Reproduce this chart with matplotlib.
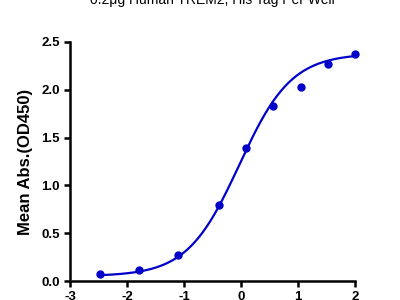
import numpy as np
import matplotlib
matplotlib.use("Agg")
import matplotlib.pyplot as plt

plt.rcParams['font.family'] = ['Liberation Sans', 'DejaVu Sans']

# measured points (log concentration vs mean OD450)
log_conc = [-2.47, -1.79, -1.10, -0.39, 0.09, 0.56, 1.05, 1.53, 2.00]
mean_abs = [0.07, 0.11, 0.27, 0.79, 1.39, 1.83, 2.03, 2.27, 2.37]

# 4PL fit parameters
fit_bottom = 0.05
fit_top = 2.38
fit_logec50 = -0.03
fit_hill = 0.95

title = "0.2\u03bcg Human TREM2, His Tag Per Well"
x_ticks = [-3, -2, -1, 0, 1, 2]
y_ticks = [0.0, 0.5, 1.0, 1.5, 2.0, 2.5]

blue = '#0000c8'

fig = plt.figure(figsize=(4, 3), dpi=100)
ax = fig.add_axes([0.175, 0.0633, 0.7125, 0.7967])

xs = np.linspace(min(log_conc), max(log_conc), 200)
ys = fit_bottom + (fit_top - fit_bottom) / (1 + 10 ** ((fit_logec50 - xs) * fit_hill))
ax.plot(xs, ys, color=blue, lw=1.6, zorder=2)
ax.plot(log_conc, mean_abs, 'o', color=blue, ms=5, zorder=3, clip_on=False)

ax.set_xlim(-3, 2)
ax.set_ylim(0, 2.5)
ax.set_xticks(x_ticks)
ax.set_xticklabels([str(t) for t in x_ticks])
ax.set_yticks(y_ticks)
ax.set_yticklabels([f'{t:.1f}' for t in y_ticks])

for side in ['top', 'right']:
    ax.spines[side].set_visible(False)
for side in ['left', 'bottom']:
    ax.spines[side].set_linewidth(1.8)
ax.tick_params(direction='out', length=4, width=1.8, labelsize=9.5)
for lab in ax.get_yticklabels() + ax.get_xticklabels():
    lab.set_fontweight('bold')

ax.set_ylabel('Mean Abs.(OD450)', fontsize=12, fontweight='bold', labelpad=6)

fig.text(0.53, 1 - 4 / 300, title, ha='center', va='baseline', fontsize=10)

fig.savefig('out.png', dpi=100)
